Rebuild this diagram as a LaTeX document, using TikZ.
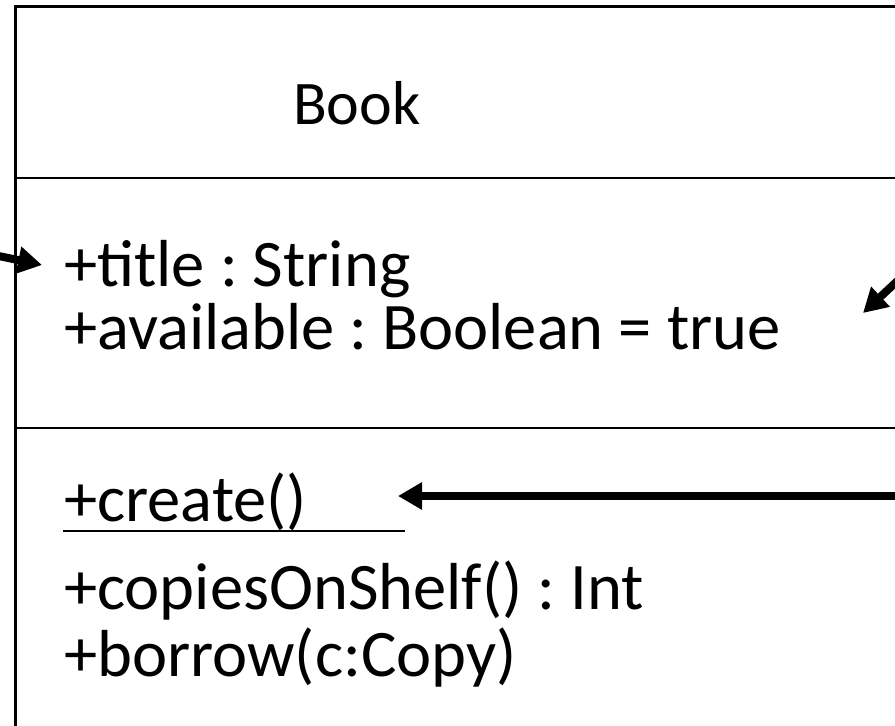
\documentclass[tikz,border=0pt]{standalone}
\usepackage{fontspec}
\setmainfont{Carlito}
\usetikzlibrary{arrows.meta}
\frenchspacing
\begin{document}
\begin{tikzpicture}[x=1pt,y=-1pt,
  member/.style={anchor=base west, inner sep=0pt, font=\fontsize{66.5}{72}\selectfont},
  classname/.style={anchor=base west, inner sep=0pt, font=\fontsize{62}{70}\selectfont},
  frame/.style={line width=3pt},
  divider/.style={line width=2pt},
  pointer/.style={line width=8pt, -{Triangle[length=24pt,width=26pt]}}]
\useasboundingbox (0,0) rectangle (895,726);
\clip (0,0) rectangle (895,726);

% class box (runs past the right and bottom edges)
\draw[frame] (940,6) -- (15,6) -- (15,760);
\draw[divider] (15,178) -- (940,178);
\draw[divider] (15,428) -- (940,428);

% class name
\node[classname] (name) at (293,124) {Book};

% attributes
\node[member] (title) at (64,286) {+title : String};
\node[member] (avail) at (64,349) {+available : Boolean = true};

% operations
\node[member] (create) at (64,521) {+create()};
\node[member] (copies) at (64,609) {+copiesOnShelf() : Int};
\node[member] (borrow) at (64,676) {+borrow(c:Copy)};
\draw[line width=2pt] (63,531) coordinate (ulstart) -- (405,531) coordinate (ulend);

% pointers
\coordinate (lsrc) at (-40,248);
\coordinate (ltip) at (42,265);
\draw[pointer] (lsrc) -- (ltip);

\coordinate (rsrc) at (935,246);
\coordinate (rtip) at (863,313);
\draw[pointer] (rsrc) -- (rtip);

\coordinate (bsrc) at (940,496);
\coordinate (btip) at (398,496);
\draw[pointer] (bsrc) -- (btip);
\end{tikzpicture}
\end{document}
